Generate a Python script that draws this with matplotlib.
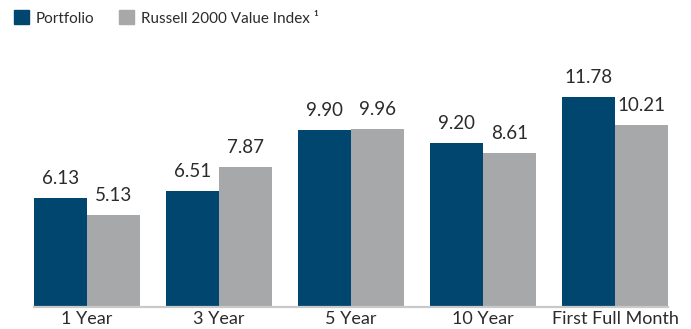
import matplotlib.pyplot as plt
from matplotlib.patches import Patch
import numpy as np

# Annualized returns (%)
periods = ['1 Year', '3 Year', '5 Year', '10 Year', 'First Full Month']
portfolio = [6.13, 6.51, 9.90, 9.20, 11.78]
index_vals = [5.13, 7.87, 9.96, 8.61, 10.21]
series_names = ['Portfolio', 'Russell 2000 Value Index \u00b9']

navy = '#00466F'
grey = '#A7A8AA'
text_col = '#2B2B2B'

plt.rcParams['font.family'] = ['Lato', 'DejaVu Sans']

fig = plt.figure(figsize=(6.91, 3.29), dpi=100)
ax = fig.add_axes([0.0492, 0.067, 0.9175, 0.813])

x = np.arange(len(periods))
w = 0.4
b1 = ax.bar(x - w / 2, portfolio, w, color=navy)
b2 = ax.bar(x + w / 2, index_vals, w, color=grey)

for bars, vals in ((b1, portfolio), (b2, index_vals)):
    for rect, v in zip(bars, vals):
        ax.annotate(f'{v:.2f}', (rect.get_x() + rect.get_width() / 2, v),
                    xytext=(0, 8), textcoords='offset points',
                    ha='center', va='bottom', fontsize=13.5, color=text_col)

ax.set_xlim(-0.4, 4.4)
ax.set_ylim(0, 15)
ax.set_xticks(x)
ax.set_xticklabels(periods, fontsize=13, color=text_col)
ax.tick_params(axis='x', length=0, pad=3)
ax.set_yticks([])
for side in ('top', 'right', 'left'):
    ax.spines[side].set_visible(False)
ax.spines['bottom'].set_color('#C9C9C9')
ax.spines['bottom'].set_linewidth(1.6)

handles = [Patch(color=navy), Patch(color=grey)]
fig.legend(handles, series_names, loc='upper left', bbox_to_anchor=(0.0, 1.01),
           ncol=2, frameon=False, fontsize=11, handlelength=1.0, handleheight=1.0,
           handletextpad=0.45, columnspacing=1.6, labelcolor=text_col)

fig.savefig('out.png', dpi=100)
